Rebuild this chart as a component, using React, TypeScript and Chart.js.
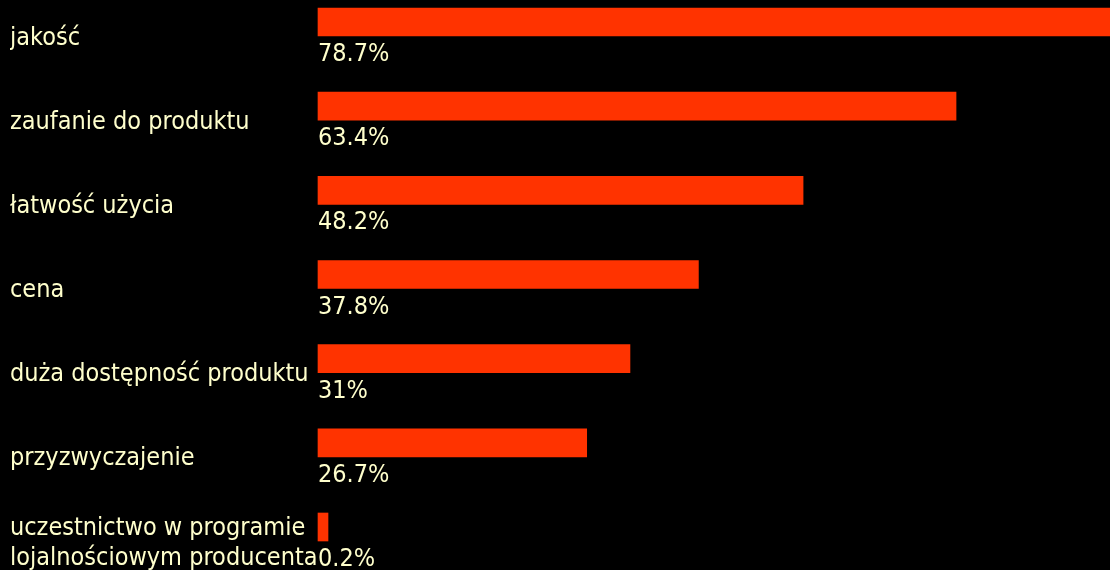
import React, { useEffect, useRef } from "react";
import { Chart, registerables } from "chart.js";

Chart.register(...registerables);

const categories: (string | string[])[] = [
  "jakość",
  "zaufanie do produktu",
  "łatwość użycia",
  "cena",
  "duża dostępność produktu",
  "przyzwyczajenie",
  ["uczestnictwo w programie", "lojalnościowym producenta"],
];
const values: number[] = [78.7, 63.4, 48.2, 37.8, 31, 26.7, 0.2];

const TEXT = "#FFFFCC";
const BAR = "#FF3300";
const FONT = "'DejaVu Sans Condensed', 'DejaVu Sans', sans-serif";

const valueLabels = {
  id: "valueLabels",
  afterDatasetsDraw(chart: any) {
    const ctx = chart.ctx;
    const meta = chart.getDatasetMeta(0);
    const x0 = chart.scales.x.getPixelForValue(0);
    ctx.save();
    ctx.fillStyle = TEXT;
    ctx.font = `25px ${FONT}`;
    ctx.textAlign = "left";
    ctx.textBaseline = "alphabetic";
    meta.data.forEach((bar: any, i: number) => {
      ctx.fillText(String(values[i]) + "%", x0, bar.y + 39);
    });
    ctx.restore();
  },
};

export default function App() {
  const ref = useRef<HTMLCanvasElement>(null);
  useEffect(() => {
    document.body.style.margin = "0";
    document.body.style.background = "#000";
    const chart = new Chart(ref.current!, {
      type: "bar",
      data: {
        labels: categories,
        datasets: [
          {
            data: values,
            backgroundColor: BAR,
            borderWidth: 0,
            barThickness: 28,
            minBarLength: 10,
            clip: false as any,
          },
        ],
      },
      options: {
        indexAxis: "y",
        responsive: false,
        animation: false,
        layout: { padding: { left: 10, top: 22, bottom: 43, right: 0 } },
        plugins: {
          legend: { display: false },
          tooltip: { enabled: false },
        },
        scales: {
          x: { display: false, min: 0, max: 78.7 },
          y: {
            offset: false,
            grid: { display: false },
            border: { display: false },
            afterFit: (s: any) => {
              s.width = 308;
              s.paddingTop = 0;
              s.paddingBottom = 0;
            },
            ticks: {
              color: TEXT,
              crossAlign: "far",
              labelOffset: 16,
              autoSkip: false,
              font: { family: FONT, size: 25, lineHeight: 1.2 },
            },
          },
        },
      },
      plugins: [valueLabels],
    });
    return () => chart.destroy();
  }, []);
  return (
    <div style={{ width: 1110, height: 570, background: "#000" }}>
      <canvas ref={ref} width={1110} height={570} style={{ display: "block" }} />
    </div>
  );
}
